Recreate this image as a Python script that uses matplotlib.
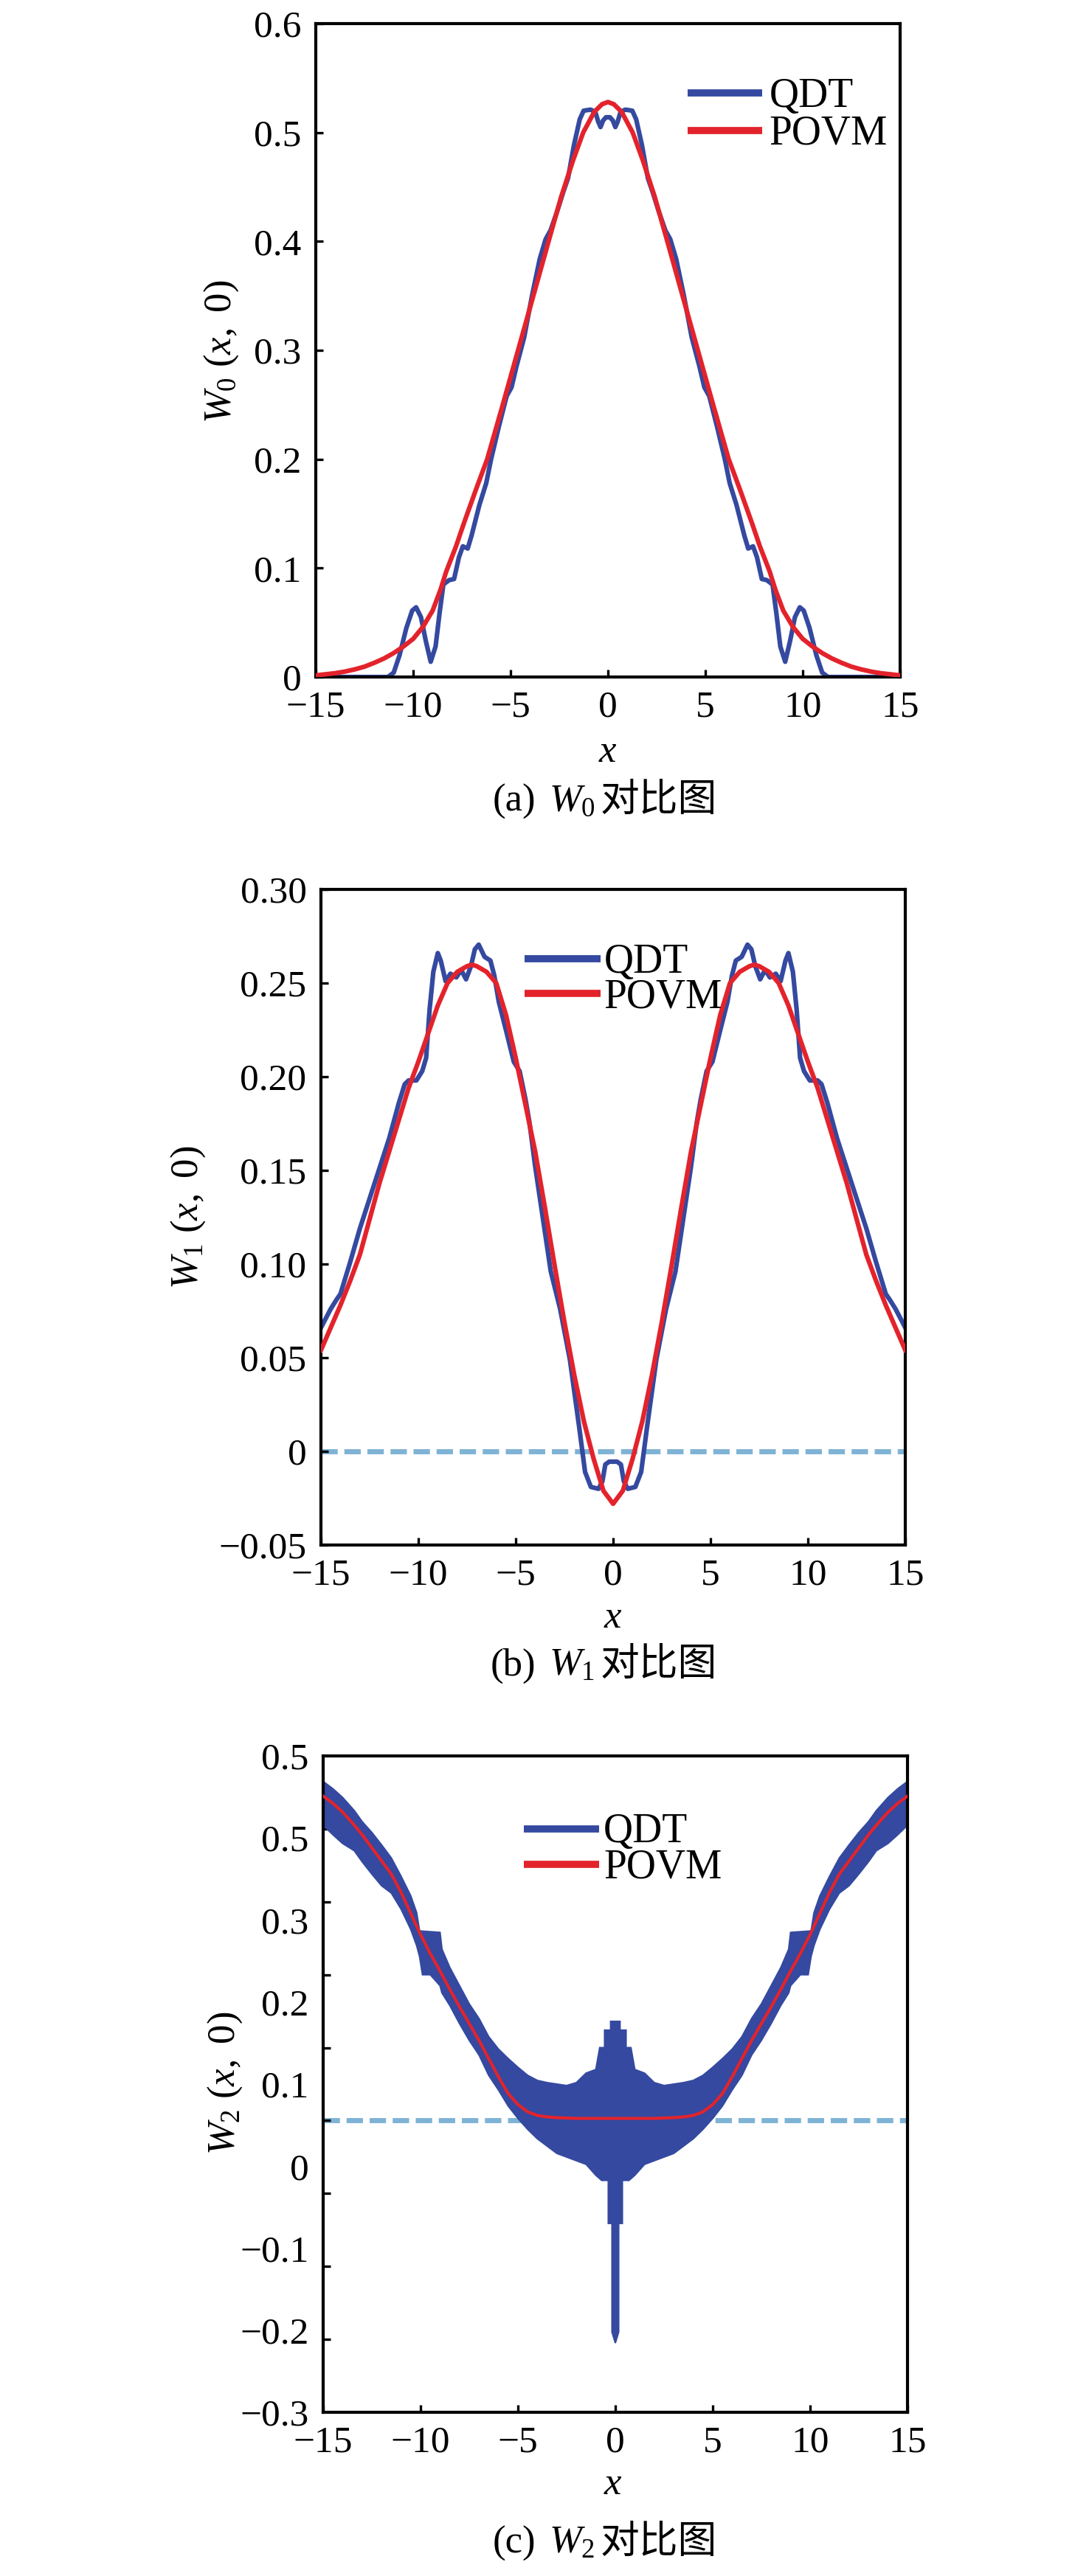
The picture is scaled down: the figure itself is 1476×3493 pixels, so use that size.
import numpy as np
import matplotlib.pyplot as plt

plt.rcParams['font.family'] = ['Liberation Serif', 'Noto Sans CJK SC']
plt.rcParams['mathtext.fontset'] = 'custom'
plt.rcParams['mathtext.rm'] = 'Liberation Serif'
plt.rcParams['mathtext.it'] = 'Liberation Serif:italic'
plt.rcParams['axes.unicode_minus'] = True

BLUE = '#34499F'
RED = '#E3232C'
ZERO = '#7FB3D5'

x_ticks = [-15, -10, -5, 0, 5, 10, 15]
x_ticklabels = ['\u221215', '\u221210', '\u22125', '0', '5', '10', '15']
legend_labels = ['QDT', 'POVM']

# ---- (a) W0 ----
a_povm_x = [-15, -14.5, -14, -13.5, -13, -12.5, -12, -11.5, -11, -10.5, -10, -9.5, -9, -8.6,
            -8.3, -7.8, -7.4, -6.8, -6.2, -5.4, -4.6, -3.8, -3.05, -2.4, -1.8, -1.27, -0.7,
            -0.3, 0, 0.3, 0.7, 1.27, 1.8, 2.4, 3.05, 3.8, 4.6, 5.4, 6.2, 6.8, 7.4, 7.8, 8.3,
            8.6, 9, 9.5, 10, 10.5, 11, 11.5, 12, 12.5, 13, 13.5, 14, 14.5, 15]
a_povm_y = [0.0015, 0.0025, 0.0035, 0.005, 0.007, 0.0095, 0.013, 0.017, 0.022, 0.028, 0.035,
            0.046, 0.061, 0.08, 0.097, 0.12, 0.141, 0.171, 0.2, 0.25, 0.301, 0.352, 0.40,
            0.441, 0.474, 0.50, 0.519, 0.526, 0.528, 0.526, 0.519, 0.50, 0.474, 0.441, 0.40,
            0.352, 0.301, 0.25, 0.2, 0.171, 0.141, 0.12, 0.097, 0.08, 0.061, 0.046, 0.035,
            0.028, 0.022, 0.017, 0.013, 0.0095, 0.007, 0.005, 0.0035, 0.0025, 0.0015]
a_qdt_x = [-15, -12, -11.3, -11.0, -10.7, -10.35, -10.05, -9.85, -9.6, -9.35, -9.1, -8.85,
           -8.65, -8.45, -8.15, -7.9, -7.65, -7.45, -7.2, -7.0, -6.6, -6.25, -6.0, -5.6, -5.2,
           -4.95, -4.7, -4.3, -3.9, -3.5, -3.2, -2.95, -2.6, -2.3, -2.05, -1.75, -1.45, -1.25,
           -0.9, -0.65, -0.5, -0.38, -0.25, -0.1, 0, 0.1, 0.25, 0.38, 0.5, 0.65, 0.9, 1.25,
           1.45, 1.75, 2.05, 2.3, 2.6, 2.95, 3.2, 3.5, 3.9, 4.3, 4.7, 4.95, 5.2, 5.6, 6.0,
           6.25, 6.6, 7.0, 7.2, 7.45, 7.65, 7.9, 8.15, 8.45, 8.65, 8.85, 9.1, 9.35, 9.6, 9.85,
           10.05, 10.35, 10.7, 11.0, 11.3, 12, 15]
a_qdt_y = [0, 0, 0, 0.004, 0.02, 0.045, 0.061, 0.064, 0.055, 0.033, 0.014, 0.028, 0.058,
           0.085, 0.089, 0.09, 0.11, 0.12, 0.118, 0.13, 0.158, 0.178, 0.2, 0.23, 0.258, 0.266,
           0.285, 0.312, 0.35, 0.384, 0.402, 0.41, 0.428, 0.445, 0.458, 0.488, 0.512, 0.52,
           0.521, 0.519, 0.51, 0.505, 0.511, 0.514, 0.514, 0.514, 0.511, 0.505, 0.51, 0.519,
           0.521, 0.52, 0.512, 0.488, 0.458, 0.445, 0.428, 0.41, 0.402, 0.384, 0.35, 0.312,
           0.285, 0.266, 0.258, 0.23, 0.2, 0.178, 0.158, 0.13, 0.118, 0.12, 0.11, 0.09, 0.089,
           0.085, 0.058, 0.028, 0.014, 0.033, 0.055, 0.064, 0.061, 0.045, 0.02, 0.004, 0, 0, 0]
a_yticks = [0, 0.1, 0.2, 0.3, 0.4, 0.5, 0.6]
a_yticklabels = ['0', '0.1', '0.2', '0.3', '0.4', '0.5', '0.6']

# ---- (b) W1 ----
b_povm_x = [-15, -14.5, -14, -13.5, -13, -12.5, -12, -11.5, -11, -10.5, -10, -9.5, -9, -8.5,
            -8, -7.5, -7.25, -7, -6.5, -6, -5.5, -5, -4.5, -4, -3.5, -3, -2.5, -2, -1.5, -1,
            -0.5, 0, 0.5, 1, 1.5, 2, 2.5, 3, 3.5, 4, 4.5, 5, 5.5, 6, 6.5, 7, 7.25, 7.5, 8,
            8.5, 9, 9.5, 10, 10.5, 11, 11.5, 12, 12.5, 13, 13.5, 14, 14.5, 15]
b_povm_y = [0.054, 0.066, 0.078, 0.091, 0.105, 0.124, 0.143, 0.160, 0.177, 0.194, 0.208,
            0.223, 0.238, 0.250, 0.256, 0.259, 0.2598, 0.259, 0.256, 0.250, 0.233, 0.210,
            0.185, 0.160, 0.130, 0.099, 0.069, 0.041, 0.016, -0.004, -0.021, -0.028, -0.021,
            -0.004, 0.016, 0.041, 0.069, 0.099, 0.130, 0.160, 0.185, 0.210, 0.233, 0.250,
            0.256, 0.259, 0.2598, 0.259, 0.256, 0.250, 0.238, 0.223, 0.208, 0.194, 0.177,
            0.160, 0.143, 0.124, 0.105, 0.091, 0.078, 0.066, 0.054]
b_qdt_x = [-15, -14.5, -14.2, -14.0, -13.5, -13.0, -12.5, -12.0, -11.5, -11.0, -10.7, -10.5,
           -10.1, -9.8, -9.6, -9.42, -9.23, -9.0, -8.85, -8.6, -8.35, -8.05, -7.8, -7.55, -7.3,
           -7.1, -6.9, -6.6, -6.3, -6.1, -5.87, -5.48, -5.1, -4.8, -4.5, -4.3, -4.0, -3.6,
           -3.2, -2.72, -2.22, -1.73, -1.44, -1.14, -0.75, -0.55, -0.4, -0.2, 0, 0.2, 0.4,
           0.55, 0.75, 1.14, 1.44, 1.73, 2.22, 2.72, 3.2, 3.6, 4.0, 4.3, 4.5, 4.8, 5.1, 5.48,
           5.87, 6.1, 6.3, 6.6, 6.9, 7.1, 7.3, 7.55, 7.8, 8.05, 8.35, 8.6, 8.85, 9.0, 9.23,
           9.42, 9.6, 9.8, 10.1, 10.5, 10.7, 11.0, 11.5, 12.0, 12.5, 13.0, 13.5, 14.0, 14.2,
           14.5, 15]
b_qdt_y = [0.066, 0.076, 0.081, 0.084, 0.101, 0.119, 0.135, 0.151, 0.167, 0.186, 0.196,
           0.198, 0.198, 0.203, 0.21, 0.236, 0.256, 0.266, 0.262, 0.251, 0.255, 0.253, 0.257,
           0.252, 0.259, 0.268, 0.2705, 0.264, 0.262, 0.254, 0.240, 0.224, 0.208, 0.203,
           0.188, 0.176, 0.152, 0.124, 0.096, 0.076, 0.049, 0.012, -0.011, -0.019, -0.020,
           -0.016, -0.007, -0.0055, -0.0055, -0.0055, -0.007, -0.016, -0.020, -0.019, -0.011,
           0.012, 0.049, 0.076, 0.096, 0.124, 0.152, 0.176, 0.188, 0.203, 0.208, 0.224, 0.240,
           0.254, 0.262, 0.264, 0.2705, 0.268, 0.259, 0.252, 0.257, 0.253, 0.255, 0.251,
           0.262, 0.266, 0.256, 0.236, 0.21, 0.203, 0.198, 0.198, 0.196, 0.186, 0.167, 0.151,
           0.135, 0.119, 0.101, 0.084, 0.081, 0.076, 0.066]
b_yticks = [-0.05, 0, 0.05, 0.10, 0.15, 0.20, 0.25, 0.30]
b_yticklabels = ['\u22120.05', '0', '0.05', '0.10', '0.15', '0.20', '0.25', '0.30']

# ---- (c) W2 ----
c_povm_x = [-15, -14.5, -14, -13.4, -13, -12.5, -12, -11.5, -11, -10.5, -10, -9.5, -9, -8.5,
            -8, -7.5, -7, -6.5, -6, -5.5, -5, -4.5, -4, -3.5, -3, -2, -1, 0, 1, 2, 3, 3.5, 4,
            4.5, 5, 5.5, 6, 6.5, 7, 7.5, 8, 8.5, 9, 9.5, 10, 10.5, 11, 11.5, 12, 12.5, 13,
            13.4, 14, 14.5, 15]
c_povm_y = [0.445, 0.435, 0.423, 0.405, 0.392, 0.374, 0.356, 0.338, 0.313, 0.284, 0.255,
            0.229, 0.205, 0.18, 0.156, 0.133, 0.11, 0.085, 0.06, 0.037, 0.022, 0.012, 0.007,
            0.005, 0.004, 0.003, 0.003, 0.003, 0.003, 0.003, 0.004, 0.005, 0.007, 0.012,
            0.022, 0.037, 0.06, 0.085, 0.11, 0.133, 0.156, 0.18, 0.205, 0.229, 0.255, 0.284,
            0.313, 0.338, 0.356, 0.374, 0.392, 0.405, 0.423, 0.435, 0.445]
# QDT oscillates fast, drawn as its upper / lower envelope
c_qdt_up_x = [-15, -14.5, -14, -13.4, -13, -12.5, -12, -11.5, -11, -10.5, -10.2, -10.05, -9.0,
              -8.9, -8.5, -8, -7.5, -7, -6.5, -6, -5.5, -5, -4.5, -4, -3.5, -3, -2.5, -2,
              -1.5, -1, -0.8, -0.55, -0.55, -0.24, -0.24, 0, 0.24, 0.24, 0.55, 0.55, 0.8, 1,
              1.5, 2, 2.5, 3, 3.5, 4, 4.5, 5, 5.5, 6, 6.5, 7, 7.5, 8, 8.5, 8.9, 9.0, 10.05,
              10.2, 10.5, 11, 11.5, 12, 12.5, 13, 13.4, 14, 14.5, 15]
c_qdt_up_y = [0.465, 0.455, 0.443, 0.425, 0.41, 0.395, 0.378, 0.36, 0.335, 0.308, 0.285, 0.26,
              0.258, 0.235, 0.21, 0.185, 0.16, 0.14, 0.115, 0.098, 0.085, 0.073, 0.062, 0.055,
              0.052, 0.05, 0.048, 0.052, 0.065, 0.07, 0.1, 0.1, 0.124, 0.124, 0.136, 0.136,
              0.136, 0.124, 0.124, 0.1, 0.1, 0.07, 0.065, 0.052, 0.048, 0.05, 0.052, 0.055,
              0.062, 0.073, 0.085, 0.098, 0.115, 0.14, 0.16, 0.185, 0.21, 0.235, 0.258, 0.26,
              0.285, 0.308, 0.335, 0.36, 0.378, 0.395, 0.41, 0.425, 0.443, 0.455, 0.465]
c_qdt_lo_x = [-15, -14.5, -14, -13.4, -13, -12.5, -12, -11.5, -11, -10.5, -10.2, -10.05, -9.9,
              -9.5, -9.0, -8.9, -8.5, -8, -7.5, -7, -6.5, -6, -5.5, -5, -4.5, -4, -3.5, -3,
              -2.5, -2, -1.5, -1, -0.7, -0.36, -0.36, -0.17, -0.17, 0, 0.17, 0.17, 0.36, 0.36,
              0.7, 1, 1.5, 2, 2.5, 3, 3.5, 4, 4.5, 5, 5.5, 6, 6.5, 7, 7.5, 8, 8.5, 8.9, 9.0,
              9.5, 9.9, 10.05, 10.2, 10.5, 11, 11.5, 12, 12.5, 13, 13.4, 14, 14.5, 15]
c_qdt_lo_y = [0.405, 0.392, 0.38, 0.37, 0.355, 0.338, 0.322, 0.312, 0.29, 0.262, 0.24, 0.225,
              0.2, 0.2, 0.185, 0.175, 0.158, 0.133, 0.11, 0.09, 0.062, 0.042, 0.02, 0.003,
              -0.012, -0.025, -0.035, -0.045, -0.05, -0.055, -0.06, -0.075, -0.082, -0.082,
              -0.141, -0.141, -0.29, -0.305, -0.29, -0.141, -0.141, -0.082, -0.082, -0.075,
              -0.06, -0.055, -0.05, -0.045, -0.035, -0.025, -0.012, 0.003, 0.02, 0.042, 0.062,
              0.09, 0.11, 0.133, 0.158, 0.175, 0.185, 0.2, 0.2, 0.225, 0.24, 0.262, 0.29,
              0.312, 0.322, 0.338, 0.355, 0.37, 0.38, 0.392, 0.405]
c_ticks = [-0.4, -0.3, -0.2, -0.1, 0, 0.1, 0.2, 0.3, 0.4, 0.5]
# the printed labels do not sit on the tick marks in the source figure
c_label_pos = list(np.linspace(-0.4, 0.5, 9))
c_labels = ['\u22120.3', '\u22120.2', '\u22120.1', '0', '0.1', '0.2', '0.3', '0.5', '0.5']

W, H = 1476, 3493
FS = 37


def fpos(X, Y):
    return X / W, 1 - Y / H


def style(ax, ylim):
    ax.set_xlim(-15, 15)
    ax.set_ylim(*ylim)
    ax.set_xticks(x_ticks, x_ticklabels)
    ax.tick_params(direction='in', length=7.5, width=2.4, labelsize=FS,
                   top=False, right=False)
    ax.tick_params(axis='x', pad=13)
    ax.tick_params(axis='y', pad=14)
    for s in ax.spines.values():
        s.set_linewidth(3)


def legend(ax, x0, x1, xt, ys):
    for y, c, lab in zip(ys, [BLUE, RED], legend_labels):
        ax.plot([x0, x1], [y, y], transform=ax.transAxes, color=c, lw=7,
                solid_capstyle='butt', zorder=5)
        ax.text(xt, y - 0.021, lab, transform=ax.transAxes, fontsize=40,
                va='baseline', ha='left', zorder=5)


def captions(ylab_xy, xlab_xy, base_y, tag, sub):
    fig.text(*fpos(*ylab_xy), r'$W_%s\ (x,\ 0)$' % sub, rotation=90, ha='center',
             va='center', fontsize=38)
    fig.text(*fpos(*xlab_xy), r'$x$', ha='center', va='center', fontsize=38)
    fig.text(*fpos(726, base_y), '(%s)' % tag, ha='right', va='baseline', fontsize=38)
    fig.text(*fpos(744, base_y), r'$W_%s$' % sub, ha='left', va='baseline', fontsize=38)
    fig.text(*fpos(814, base_y), '对比图', ha='left', va='baseline', fontsize=38,
             family=['Noto Sans CJK SC'])


fig = plt.figure(figsize=(W / 100, H / 100), dpi=100)

ax_a = fig.add_axes([428 / W, 1 - 918 / H, 792 / W, 886 / H])
ax_a.plot(a_qdt_x, a_qdt_y, color=BLUE, lw=4.5, zorder=2)
ax_a.plot(a_povm_x, a_povm_y, color=RED, lw=4.5, zorder=3)
style(ax_a, (0, 0.6))
ax_a.set_yticks(a_yticks, a_yticklabels)
legend(ax_a, 0.636, 0.764, 0.776, [0.894, 0.836])
captions((300, 477), (824, 1020), 1100, 'a', '0')

ax_b = fig.add_axes([435 / W, 1 - 2095 / H, 792 / W, 889 / H])
ax_b.axhline(0, color=ZERO, lw=5, dashes=(3.2, 1.3), zorder=1)
ax_b.plot(b_qdt_x, b_qdt_y, color=BLUE, lw=4.5, zorder=2)
ax_b.plot(b_povm_x, b_povm_y, color=RED, lw=4.5, zorder=3)
style(ax_b, (-0.05, 0.30))
ax_b.set_yticks(b_yticks, b_yticklabels)
legend(ax_b, 0.348, 0.478, 0.484, [0.894, 0.841])
captions((255, 1651), (831, 2194), 2272, 'b', '1')

ax_c = fig.add_axes([438 / W, 1 - 3271 / H, 792 / W, 890 / H])
ax_c.axhline(0, color=ZERO, lw=5, dashes=(3.2, 1.3), zorder=1)
ax_c.fill(c_qdt_up_x + c_qdt_lo_x[::-1], c_qdt_up_y + c_qdt_lo_y[::-1],
          color=BLUE, lw=1.5, zorder=2)
ax_c.plot(c_povm_x, c_povm_y, color=RED, lw=3, zorder=3)
style(ax_c, (-0.4, 0.5))
ax_c.set_yticks(c_label_pos, c_labels)
ax_c.tick_params(axis='y', which='major', length=0)
ax_c.set_yticks(c_ticks, minor=True)
ax_c.tick_params(axis='y', which='minor', direction='in', length=7.5, width=2.4, right=False)
legend(ax_c, 0.343, 0.472, 0.48, [0.889, 0.835])
captions((305, 2825), (831, 3369), 3462, 'c', '2')

fig.savefig('out.png', dpi=100)
